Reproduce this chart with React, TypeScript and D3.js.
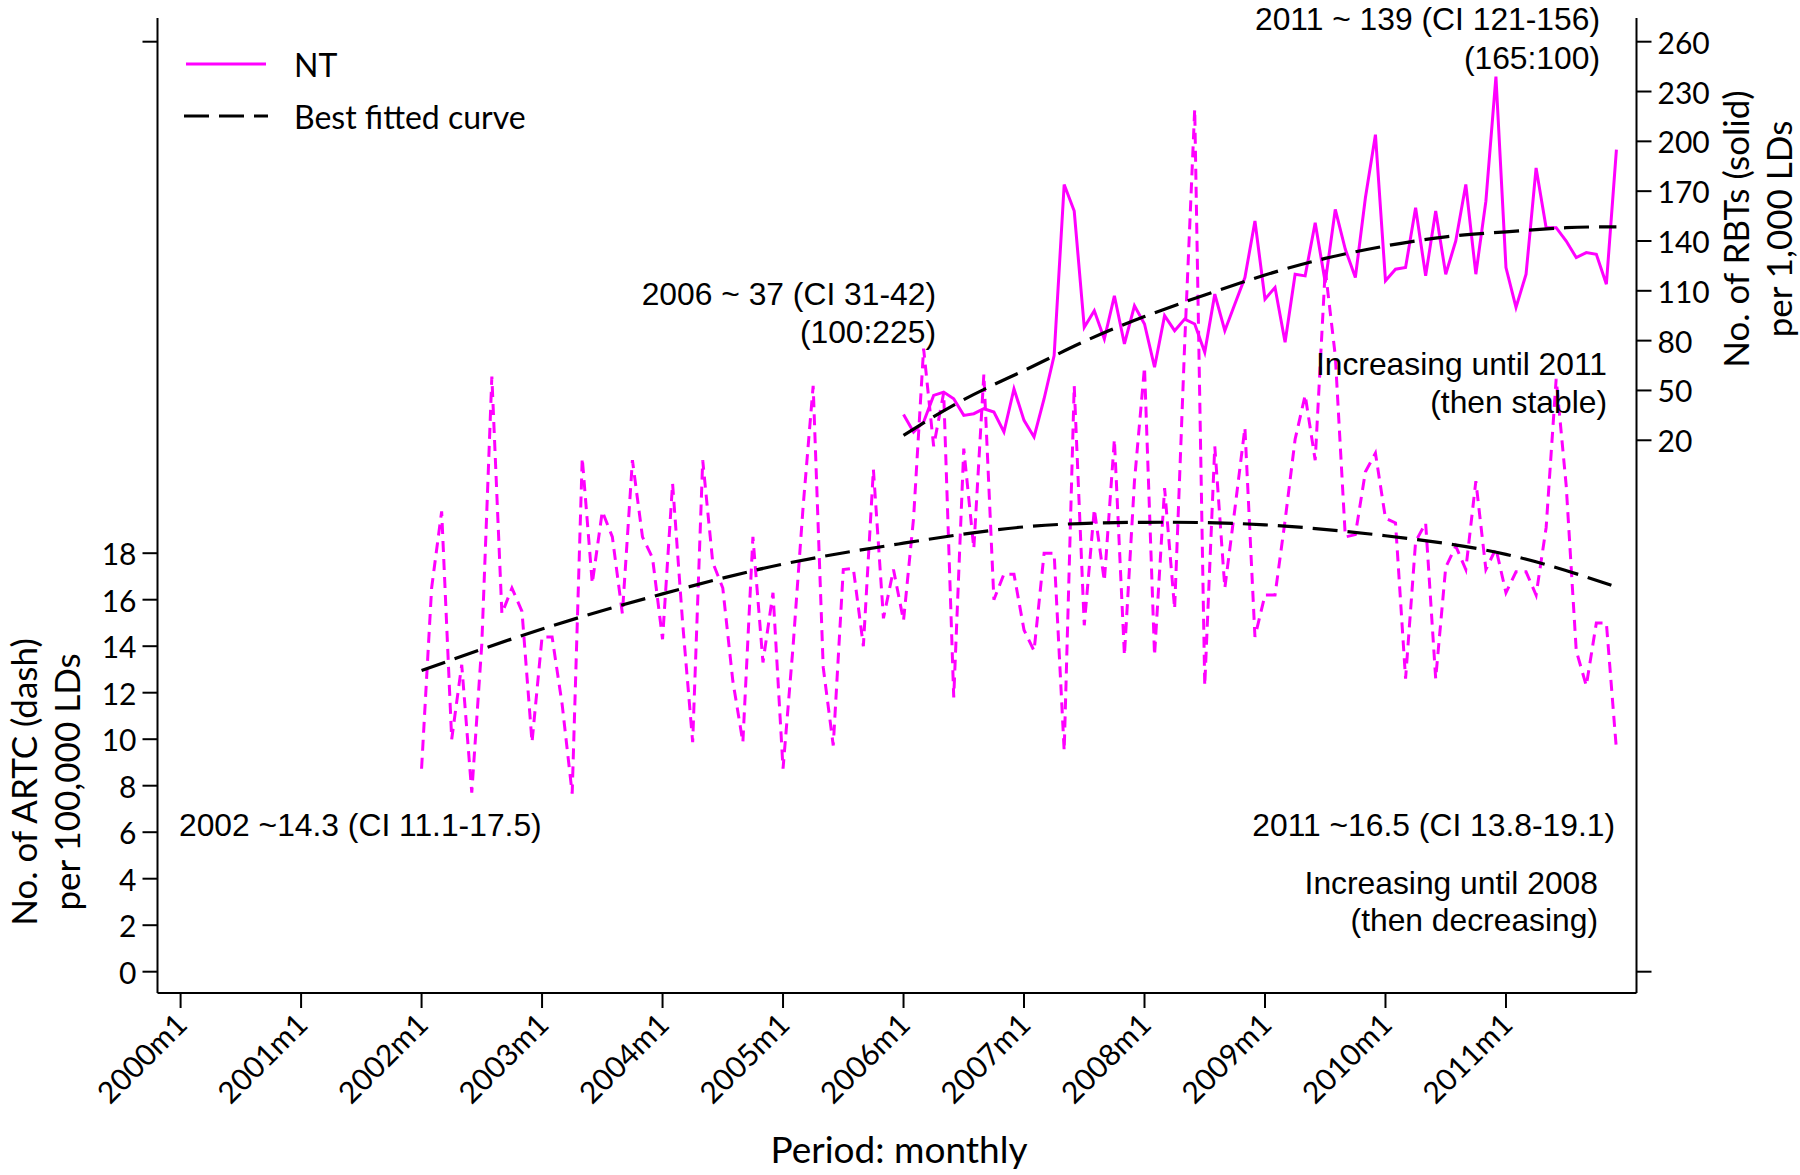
import React from "react";
import * as d3 from "d3";

const W = 1800;
const H = 1175;

// Monthly ARTC per 100,000 LDs (dashed), 2002m1 .. 2011m12
const artcStart = "2002m1";
const artcRate = [
  8.73, 16.5, 19.8, 10.0, 13.2, 7.7, 14.1, 25.6, 15.4, 16.5, 15.5, 9.87,
  14.4, 14.4, 11.5, 7.66, 22.1, 16.7, 19.8, 18.7, 15.4, 22.0, 18.7, 17.8,
  14.3, 21.0, 15.0, 9.87, 22.0, 17.6, 16.5, 12.5, 9.87, 18.7, 13.3, 16.3,
  8.73, 14.0, 20.0, 25.2, 13.1, 9.73, 17.3, 17.35, 14.0, 21.6, 15.2, 17.3,
  15.1, 19.5, 26.8, 22.6, 24.9, 11.8, 22.5, 18.2, 25.7, 16.0, 17.1, 17.1,
  14.7, 13.8, 18.0, 18.0, 9.5, 25.2, 14.9, 19.9, 16.8, 22.9, 13.6, 21.1,
  26.0, 13.6, 20.8, 15.6, 27.0, 37.1, 12.3, 22.6, 16.5, 19.9, 23.4, 14.4,
  16.2, 16.2, 19.4, 22.9, 24.8, 22.0, 30.2, 26.5, 18.7, 18.8, 21.5, 22.3,
  19.5, 19.3, 12.6, 18.5, 19.3, 12.6, 17.4, 18.3, 17.3, 21.1, 17.3, 18.2,
  16.3, 17.2, 17.2, 16.2, 19.1, 25.5, 20.9, 13.8, 12.3, 15.0, 15.0, 9.56,
];

// Monthly RBTs per 1,000 LDs (solid), 2006m1 .. 2011m12
const rbtStart = "2006m1";
const rbtRate = [
  35.5, 25, 31, 47, 49, 45, 35, 36, 39, 37, 25, 51,
  32, 22, 45, 71, 174, 158, 88, 98, 81, 107, 78, 101,
  90, 64, 95, 86, 93, 90, 73, 108, 86, 102, 118, 152,
  105, 112, 79, 120, 119, 151, 115, 159, 135, 118, 166, 204,
  116, 123, 124, 160, 119, 158, 120, 140, 174, 120, 164, 239,
  124, 100, 120, 184, 148, 148, 140, 130, 133, 132, 114, 195,
];

// Best fitted curves, sampled as [period, value]
const artcFit: [string, number][] = [
  ["2002m1", 12.95], ["2003m1", 14.74], ["2004m1", 16.25], ["2005m1", 17.53],
  ["2006m1", 18.43], ["2007m1", 19.13], ["2008m1", 19.33], ["2009m1", 19.22],
  ["2010m1", 18.75], ["2011m1", 17.95], ["2011m12", 16.55],
];
const rbtFit: [string, number][] = [
  ["2006m1", 23], ["2006m7", 44.5], ["2007m1", 62], ["2007m7", 79.5],
  ["2008m1", 94.5], ["2008m7", 107.5], ["2009m1", 119.5], ["2009m7", 129.5],
  ["2010m1", 137], ["2010m7", 142.5], ["2011m1", 145.5], ["2011m7", 148],
  ["2011m12", 148.5],
];

const xTicks = [
  "2000m1", "2001m1", "2002m1", "2003m1", "2004m1", "2005m1",
  "2006m1", "2007m1", "2008m1", "2009m1", "2010m1", "2011m1",
];
const leftTicks = [0, 2, 4, 6, 8, 10, 12, 14, 16, 18];
const leftExtraTicks = [40];
const rightTicks = [20, 50, 80, 110, 140, 170, 200, 230, 260];
const rightExtraTicks = [-300];

const seriesName = "NT";
const fitName = "Best fitted curve";

// months elapsed since 2000m1
const monthIndex = (p: string) => {
  const [y, m] = p.split("m").map(Number);
  return (y - 2000) * 12 + (m - 1);
};

const MAGENTA = "#FF00FF";
const SANS = "Lato, 'Open Sans', sans-serif";
const ARIAL = "'Liberation Sans', Arial, sans-serif";

const frame = { left: 157.5, right: 1636.5, top: 18, bottom: 993 };

export default function App() {
  const x = d3.scaleLinear().domain([-2.3, 145]).range([frame.left, frame.right]);
  const yL = d3.scaleLinear().domain([0, 40]).range([971.7, 41.7]);
  const yR = d3.scaleLinear().domain([-300, 260]).range([971.7, 41.7]);

  const a0 = monthIndex(artcStart);
  const r0 = monthIndex(rbtStart);

  const artcLine = d3
    .line<number>()
    .x((_, i) => x(a0 + i))
    .y((d) => yL(d))(artcRate) as string;
  const rbtLine = d3
    .line<number>()
    .x((_, i) => x(r0 + i))
    .y((d) => yR(d))(rbtRate) as string;
  const artcFitLine = d3
    .line<[string, number]>()
    .curve(d3.curveNatural)
    .x((d) => x(monthIndex(d[0])))
    .y((d) => yL(d[1]))(artcFit) as string;
  const rbtFitLine = d3
    .line<[string, number]>()
    .curve(d3.curveNatural)
    .x((d) => x(monthIndex(d[0])))
    .y((d) => yR(d[1]))(rbtFit) as string;

  const axisStroke = { stroke: "#000", strokeWidth: 2 };
  const tickFont = { fontFamily: SANS, fontSize: 30, fill: "#000" };
  const titleFont = { fontFamily: SANS, fontSize: 35, fill: "#000" };
  const legendFont = { fontFamily: SANS, fontSize: 32, fill: "#000" };
  const noteFont = { fontFamily: ARIAL, fontSize: 31.8, fill: "#000" };

  return (
    <div style={{ position: "absolute", left: 0, top: 0, background: "#fff" }}>
      <svg width={W} height={H} viewBox={`0 0 ${W} ${H}`} style={{ display: "block" }}>
        <rect x={0} y={0} width={W} height={H} fill="#fff" />

        {/* axes */}
        <line x1={frame.left} x2={frame.left} y1={frame.top} y2={frame.bottom} {...axisStroke} />
        <line x1={frame.right} x2={frame.right} y1={frame.top} y2={frame.bottom} {...axisStroke} />
        <line x1={frame.left} x2={frame.right} y1={frame.bottom} y2={frame.bottom} {...axisStroke} />

        {leftTicks.concat(leftExtraTicks).map((t) => (
          <line key={"lt" + t} x1={frame.left - 15} x2={frame.left} y1={yL(t)} y2={yL(t)} {...axisStroke} />
        ))}
        {leftTicks.map((t) => (
          <text key={"ll" + t} x={frame.left - 21} y={yL(t)} textAnchor="end" dominantBaseline="central" {...tickFont}>
            {t}
          </text>
        ))}
        {rightTicks.concat(rightExtraTicks).map((t) => (
          <line key={"rt" + t} x1={frame.right} x2={frame.right + 15} y1={yR(t)} y2={yR(t)} {...axisStroke} />
        ))}
        {rightTicks.map((t) => (
          <text key={"rl" + t} x={frame.right + 21} y={yR(t)} textAnchor="start" dominantBaseline="central" {...tickFont}>
            {t}
          </text>
        ))}
        {xTicks.map((p) => {
          const px = x(monthIndex(p));
          return (
            <g key={p}>
              <line x1={px} x2={px} y1={frame.bottom} y2={frame.bottom + 15} {...axisStroke} />
              <text
                transform={`translate(${px},${frame.bottom + 25}) rotate(-45)`}
                textAnchor="end"
                dominantBaseline="central"
                {...tickFont}
              >
                {p}
              </text>
            </g>
          );
        })}

        {/* axis titles */}
        <g transform="translate(37,782) rotate(-90)">
          <text textAnchor="middle" {...titleFont}>No. of ARTC (dash)</text>
          <text y={43} textAnchor="middle" {...titleFont}>per 100,000 LDs</text>
        </g>
        <g transform="translate(1749,229) rotate(-90)">
          <text textAnchor="middle" {...titleFont}>No. of RBTs (solid)</text>
          <text y={43} textAnchor="middle" {...titleFont}>per 1,000 LDs</text>
        </g>
        <text x={899} y={1163} textAnchor="middle" fontFamily={SANS} fontSize={37} fill="#000">
          Period: monthly
        </text>

        {/* series */}
        <path d={artcLine} fill="none" stroke={MAGENTA} strokeWidth={3} strokeDasharray="11,7" />
        <path d={rbtLine} fill="none" stroke={MAGENTA} strokeWidth={3} strokeLinejoin="miter" />
        <path d={artcFitLine} fill="none" stroke="#000" strokeWidth={3.2} strokeDasharray="25,10" />
        <path d={rbtFitLine} fill="none" stroke="#000" strokeWidth={3.2} strokeDasharray="25,10" />

        {/* legend */}
        <line x1={186} x2={266} y1={64} y2={64} stroke={MAGENTA} strokeWidth={3} />
        <text x={294} y={64} dominantBaseline="central" {...legendFont}>{seriesName}</text>
        <line x1={184} x2={268} y1={116} y2={116} stroke="#000" strokeWidth={3.2} strokeDasharray="25,10" />
        <text x={294} y={116} dominantBaseline="central" {...legendFont}>{fitName}</text>

        {/* annotations */}
        <text x={1600} y={30} textAnchor="end" {...noteFont}>2011 ~ 139 (CI 121-156)</text>
        <text x={1600} y={69} textAnchor="end" {...noteFont}>(165:100)</text>
        <text x={936} y={305} textAnchor="end" {...noteFont}>2006 ~ 37 (CI 31-42)</text>
        <text x={936} y={343} textAnchor="end" {...noteFont}>(100:225)</text>
        <text x={1607} y={375} textAnchor="end" {...noteFont}>Increasing until 2011</text>
        <text x={1607} y={413} textAnchor="end" {...noteFont}>(then stable)</text>
        <text x={179} y={836} textAnchor="start" {...noteFont}>2002 ~14.3 (CI 11.1-17.5)</text>
        <text x={1615} y={836} textAnchor="end" {...noteFont}>2011 ~16.5 (CI 13.8-19.1)</text>
        <text x={1598} y={894} textAnchor="end" {...noteFont}>Increasing until 2008</text>
        <text x={1598} y={931} textAnchor="end" {...noteFont}>(then decreasing)</text>
      </svg>
    </div>
  );
}
